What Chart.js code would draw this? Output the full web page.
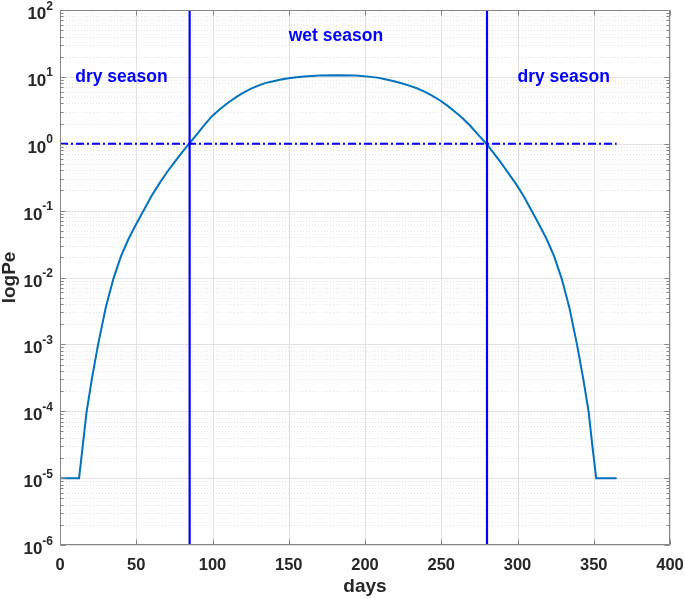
<!DOCTYPE html>
<html>
<head>
<meta charset="utf-8">
<script src="https://cdn.jsdelivr.net/npm/chart.js@4.4.1/dist/chart.umd.min.js"></script>
<style>
    html, body { margin: 0; padding: 0; background: #ffffff; }
    #wrap { width: 685px; height: 599px; }
</style>
</head>
<body>
<div id="wrap"><canvas id="chart" width="685" height="599"></canvas></div>
<script>
// curve (days vs Pe)
const days = [0, 12.5, 15, 17.5, 21, 25, 30, 35, 40, 45, 50, 55, 60, 65, 70, 75, 80, 85, 90, 95, 100, 105, 110, 115, 120, 125, 130, 135, 140, 145, 150, 155, 160, 170, 182,
    194, 204, 209, 214, 219, 224, 229, 234, 239, 244, 249, 254, 259, 264, 269, 274, 279.6, 284, 289, 294, 299, 304, 309, 314, 319, 324, 329, 334, 339, 343, 346.6, 349, 351.6, 365];
const pe = [1e-5, 1e-5, 3.16e-5, 1e-4, 3.16e-4, 1e-3, 3.55e-3, 9.55e-3, 0.0209, 0.038, 0.063, 0.102, 0.166, 0.251, 0.372, 0.525, 0.741, 1.02, 1.41, 1.95, 2.63, 3.31, 4.07, 4.9, 5.75, 6.61, 7.41, 8.13, 8.61, 9.12, 9.55, 9.89, 10.1, 10.5, 10.6,
    10.5, 10.0, 9.66, 9.12, 8.61, 8.04, 7.41, 6.76, 6.03, 5.25, 4.47, 3.72, 3.02, 2.4, 1.86, 1.38, 1.0, 0.741, 0.525, 0.363, 0.251, 0.166, 0.102, 0.063, 0.038, 0.0209, 9.55e-3, 3.55e-3, 1e-3, 3.16e-4, 1e-4, 3.16e-5, 1e-5, 1e-5];

const seasonBounds = [85, 280];
const thresholdDays = [0, 365];
const thresholdValue = 1;
const yLimits = [1e-6, 1e2];
const xLimits = [0, 400];
const yDecades = [-6, -5, -4, -3, -2, -1, 0, 1, 2];

const noteLabels = ["dry season", "wet season", "dry season"];
const noteDays = [10, 150, 300];
const noteValues = [10, 40, 10];

const fontFamily = "'Liberation Sans', Arial, Helvetica, sans-serif";
const axisColor = "#262626";
const boxColor = "#858585";

function hLine(ctx, a, py) {
    ctx.beginPath();
    ctx.moveTo(a.left, py);
    ctx.lineTo(a.right, py);
    ctx.stroke();
}

function vLine(ctx, a, px) {
    ctx.beginPath();
    ctx.moveTo(px, a.top);
    ctx.lineTo(px, a.bottom);
    ctx.stroke();
}

const matlabAxes = {
    id: "matlabAxes",
    beforeDatasetsDraw(chart) {
        const { ctx, chartArea: a, scales: { x, y } } = chart;
        ctx.save();
        ctx.lineWidth = 1;

        // minor log grid, dotted
        ctx.strokeStyle = "#e6e6e6";
        ctx.setLineDash([1, 2]);
        yDecades.slice(0, -1).forEach((e) => {
            for (let m = 2; m <= 9; m++) {
                hLine(ctx, a, Math.round(y.getPixelForValue(m * 10 ** e)) + 0.5);
            }
        });

        // major grid
        ctx.setLineDash([]);
        ctx.strokeStyle = "#e2e2e2";
        yDecades.forEach((e) => hLine(ctx, a, Math.round(y.getPixelForValue(10 ** e)) + 0.5));
        x.ticks.forEach((t) => vLine(ctx, a, Math.round(x.getPixelForValue(t.value)) + 0.5));
        ctx.restore();
    },
    afterDatasetsDraw(chart) {
        const { ctx, chartArea: a, scales: { x, y } } = chart;
        ctx.save();
        ctx.strokeStyle = boxColor;
        ctx.lineWidth = 1;
        const l = Math.round(a.left) + 0.5;
        const r = Math.round(a.right) - 0.5;
        const t = Math.round(a.top) + 0.5;
        const b = Math.round(a.bottom) - 0.5;
        ctx.strokeRect(l, t, r - l, b - t);

        ctx.beginPath();
        x.ticks.forEach((tk) => {
            const px = Math.round(x.getPixelForValue(tk.value)) + 0.5;
            ctx.moveTo(px, b); ctx.lineTo(px, b - 5);
            ctx.moveTo(px, t); ctx.lineTo(px, t + 5);
        });
        yDecades.forEach((e) => {
            const py = Math.round(y.getPixelForValue(10 ** e)) + 0.5;
            ctx.moveTo(l, py); ctx.lineTo(l + 5, py);
            ctx.moveTo(r, py); ctx.lineTo(r - 5, py);
            if (e < yDecades[yDecades.length - 1]) {
                for (let m = 2; m <= 9; m++) {
                    const pm = Math.round(y.getPixelForValue(m * 10 ** e)) + 0.5;
                    ctx.moveTo(l, pm); ctx.lineTo(l + 3, pm);
                    ctx.moveTo(r, pm); ctx.lineTo(r - 3, pm);
                }
            }
        });
        ctx.stroke();

        // season notes
        ctx.fillStyle = "#0000ff";
        ctx.font = `bold 17.5px ${fontFamily}`;
        ctx.textAlign = "left";
        ctx.textBaseline = "middle";
        noteLabels.forEach((label, i) => {
            ctx.fillText(label, x.getPixelForValue(noteDays[i]), y.getPixelForValue(noteValues[i]));
        });
        ctx.restore();
    },
    afterDraw(chart) {
        // y tick labels as 10 with a raised exponent
        const { ctx, chartArea: a, scales: { y } } = chart;
        ctx.save();
        ctx.fillStyle = axisColor;
        ctx.textBaseline = "alphabetic";
        ctx.textAlign = "left";
        const baseFont = `bold 17px ${fontFamily}`;
        const expFont = `bold 12px ${fontFamily}`;
        yDecades.forEach((e) => {
            const py = y.getPixelForValue(10 ** e);
            const expText = String(e);
            ctx.font = baseFont;
            const wBase = ctx.measureText("10").width;
            ctx.font = expFont;
            const wExp = ctx.measureText(expText).width;
            const right = a.left - 7;
            const start = right - wBase - wExp;
            ctx.font = baseFont;
            ctx.fillText("10", start, py + 9);
            ctx.font = expFont;
            ctx.fillText(expText, start + wBase, py - 0.5);
        });
        ctx.restore();
    },
};

const datasets = [
    {
        label: "wet season start",
        data: [{ x: seasonBounds[0], y: yLimits[0] }, { x: seasonBounds[0], y: yLimits[1] }],
        borderColor: "#0000ff",
        borderWidth: 2.2,
    },
    {
        label: "wet season end",
        data: [{ x: seasonBounds[1], y: yLimits[0] }, { x: seasonBounds[1], y: yLimits[1] }],
        borderColor: "#0000ff",
        borderWidth: 2.2,
    },
    {
        label: "Pe = 1",
        data: thresholdDays.map((d) => ({ x: d, y: thresholdValue })),
        borderColor: "#0000ff",
        borderWidth: 2.2,
        borderDash: [8, 3, 2, 3],
    },
    {
        label: "Pe",
        data: days.map((d, i) => ({ x: d, y: pe[i] })),
        borderColor: "#0072bd",
        borderWidth: 2,
    },
];

new Chart(document.getElementById("chart"), {
    type: "line",
    data: {
        datasets: datasets.map((ds) => ({ ...ds, pointRadius: 0, tension: 0, fill: false })),
    },
    options: {
        responsive: false,
        animation: false,
        devicePixelRatio: 1,
        layout: { padding: { left: 0, top: 10, right: 15, bottom: 0 } },
        plugins: {
            legend: { display: false },
            tooltip: { enabled: false },
        },
        scales: {
            x: {
                type: "linear",
                min: xLimits[0],
                max: xLimits[1],
                grid: { display: false },
                border: { display: false },
                ticks: {
                    stepSize: 50,
                    autoSkip: false,
                    maxRotation: 0,
                    padding: 3,
                    color: axisColor,
                    font: { family: fontFamily, size: 16.5, weight: "bold" },
                },
                title: {
                    display: true,
                    text: "days",
                    color: axisColor,
                    font: { family: fontFamily, size: 19, weight: "bold", lineHeight: 1.2 },
                    padding: { top: 0, bottom: 1 },
                },
                afterFit(scale) {
                    scale.height = 54;
                    scale.paddingLeft = 0;
                    scale.paddingRight = 0;
                },
            },
            y: {
                type: "logarithmic",
                min: yLimits[0],
                max: yLimits[1],
                grid: { display: false },
                border: { display: false },
                ticks: { display: false },
                title: {
                    display: true,
                    text: "logPe",
                    color: axisColor,
                    font: { family: fontFamily, size: 19, weight: "bold", lineHeight: 1 },
                    padding: { top: 0, bottom: 0 },
                },
                afterFit(scale) { scale.width = 60; },
            },
        },
    },
    plugins: [matlabAxes],
});
</script>
</body>
</html>
